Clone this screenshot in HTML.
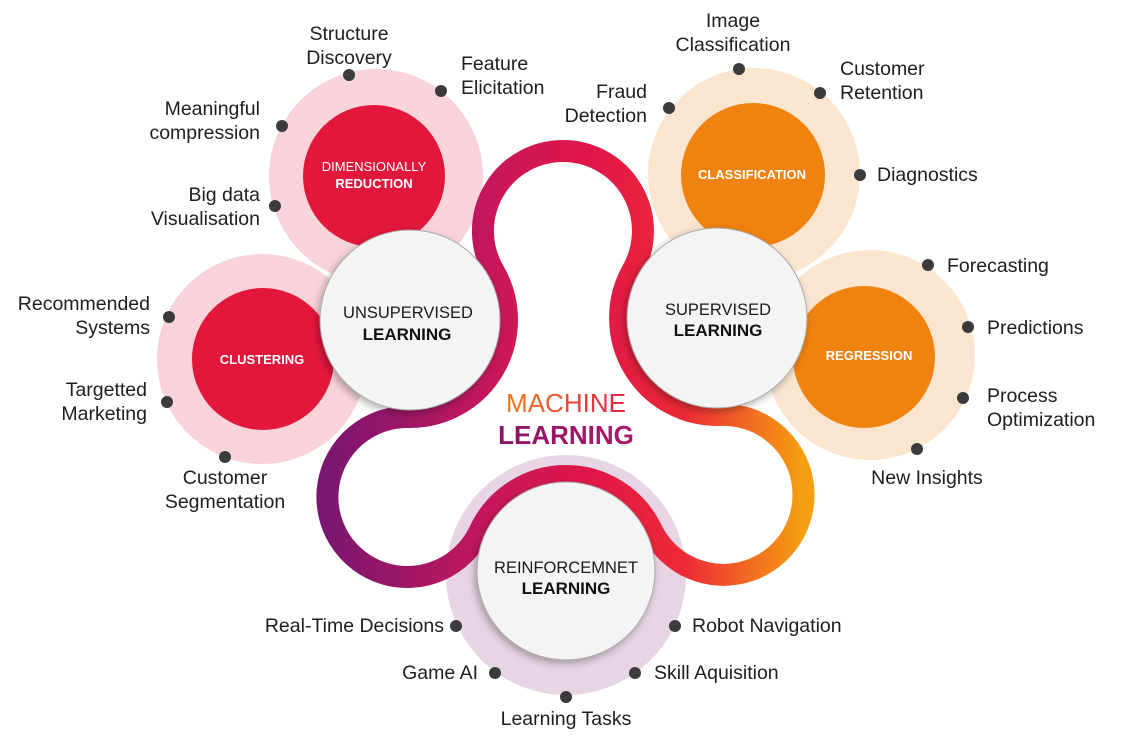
<!DOCTYPE html>
<html><head><meta charset="utf-8">
<style>
html,body{margin:0;padding:0;background:#fff;}
svg{display:block;}
text{font-family:"Liberation Sans",sans-serif;}
.lbl{font-size:19.5px;fill:#1e1e1e;}
.in{font-size:13px;fill:#fff;font-weight:bold;}
.mc{font-size:16.5px;fill:#1a1a1a;}
.mcb{font-size:17px;fill:#111;font-weight:bold;}
</style></head>
<body>
<svg id="svg" width="1136" height="740" viewBox="0 0 1136 740">
<defs>
<linearGradient id="rib" x1="0" y1="0" x2="1" y2="0" gradientUnits="objectBoundingBox">
<stop offset="0" stop-color="#7a1670"/>
<stop offset="0.35" stop-color="#c8175a"/>
<stop offset="0.55" stop-color="#e01648"/>
<stop offset="0.75" stop-color="#ec2a35"/>
<stop offset="1" stop-color="#f6a010"/>
</linearGradient>
<linearGradient id="mlg1" x1="0" y1="0" x2="1" y2="0"><stop offset="0" stop-color="#f07a1a"/><stop offset="1" stop-color="#e0204a"/></linearGradient>
<linearGradient id="mlg2" x1="0" y1="0" x2="1" y2="0"><stop offset="0" stop-color="#8a1466"/><stop offset="1" stop-color="#b0186a"/></linearGradient>
<filter id="sh" x="-20%" y="-20%" width="140%" height="140%"><feDropShadow dx="-2" dy="3" stdDeviation="4" flood-color="#000" flood-opacity="0.3"/></filter>
</defs>

<g>
<circle cx="376" cy="176" r="107" fill="#f8d3d9"/>
<circle cx="374" cy="176" r="71" fill="#e3173b"/>
<text class="in" x="374" y="171" text-anchor="middle" style="font-weight:normal">DIMENSIONALLY</text>
<text class="in" x="374" y="188" text-anchor="middle">REDUCTION</text>
</g>
<g>
<circle cx="262" cy="359" r="105" fill="#f8d3d9"/>
<circle cx="263" cy="359" r="71" fill="#e3173b"/>
<text class="in" x="262" y="364" text-anchor="middle">CLUSTERING</text>
</g>
<g>
<circle cx="754" cy="174" r="106" fill="#fbe5cf"/>
<circle cx="753" cy="175" r="72" fill="#f0820f"/>
<text class="in" x="752" y="179" text-anchor="middle">CLASSIFICATION</text>
</g>
<g>
<circle cx="870" cy="355" r="105" fill="#fbe5cf"/>
<circle cx="864" cy="357" r="71" fill="#f0820f"/>
<text class="in" x="869" y="360" text-anchor="middle">REGRESSION</text>
</g>
<circle cx="566" cy="575" r="120" fill="#e8d5e4"/>

<path id="ribbon" fill="none" stroke="url(#rib)" stroke-width="22"/>

<g>
<circle cx="410" cy="320" r="90" fill="#f4f4f4" stroke="#aaa" stroke-width="1" filter="url(#sh)"/>
<text class="mc" x="408" y="318" text-anchor="middle">UNSUPERVISED</text>
<text class="mcb" x="407" y="340" text-anchor="middle">LEARNING</text>
</g>
<g>
<circle cx="717" cy="318" r="90" fill="#f4f4f4" stroke="#aaa" stroke-width="1" filter="url(#sh)"/>
<text class="mc" x="718" y="315" text-anchor="middle">SUPERVISED</text>
<text class="mcb" x="718" y="336" text-anchor="middle">LEARNING</text>
</g>
<g>
<circle cx="566" cy="571" r="89" fill="#f4f4f4" stroke="#aaa" stroke-width="1" filter="url(#sh)"/>
<text class="mc" x="566" y="573" text-anchor="middle">REINFORCEMNET</text>
<text class="mcb" x="566" y="594" text-anchor="middle">LEARNING</text>
</g>

<text x="566" y="412" text-anchor="middle" font-size="26" fill="url(#mlg1)">MACHINE</text>
<text x="566" y="444" text-anchor="middle" font-size="26" font-weight="bold" fill="url(#mlg2)">LEARNING</text>

<g id="labels"></g>
</svg>
<script>
// node geometry for ribbon
var C1={x:410,y:320,R:97}, C2={x:717,y:318,R:97}, C3={x:566,y:571,R:95};
var LR=80;
function lobe(A,B,side){
  var dx=B.x-A.x, dy=B.y-A.y, d=Math.hypot(dx,dy);
  var ra=A.R+LR, rb=B.R+LR;
  var a=(ra*ra-rb*rb+d*d)/(2*d), h=Math.sqrt(Math.max(0,ra*ra-a*a));
  var ux=dx/d, uy=dy/d, bx=A.x+a*ux, by=A.y+a*uy;
  return {x:bx+side*uy*h, y:by-side*ux*h};
}
function tp(A,L,r){var dx=L.x-A.x,dy=L.y-A.y,d=Math.hypot(dx,dy);return {x:A.x+dx/d*r,y:A.y+dy/d*r};}
var L1=lobe(C1,C2,1), L3=lobe(C2,C3,1), L2=lobe(C3,C1,1);
var p1=tp(C1,L1,C1.R), p2=tp(C2,L1,C2.R), p3=tp(C2,L3,C2.R), p4=tp(C3,L3,C3.R), p5=tp(C3,L2,C3.R), p6=tp(C1,L2,C1.R);
function f(p){return p.x.toFixed(1)+' '+p.y.toFixed(1);}
var d='M'+f(p1)+' A'+LR+' '+LR+' 0 1 1 '+f(p2)+
 ' A'+C2.R+' '+C2.R+' 0 0 0 '+f(p3)+
 ' A'+LR+' '+LR+' 0 1 1 '+f(p4)+
 ' A'+C3.R+' '+C3.R+' 0 0 0 '+f(p5)+
 ' A'+LR+' '+LR+' 0 1 1 '+f(p6)+
 ' A'+C1.R+' '+C1.R+' 0 0 0 '+f(p1)+' Z';
document.getElementById('ribbon').setAttribute('d',d);

var labels=[
 ["Structure|Discovery",349,75,349,40,"middle"],
 ["Feature|Elicitation",441,91,461,70,"start"],
 ["Meaningful|compression",282,126,260,115,"end"],
 ["Big data|Visualisation",275,206,260,201,"end"],
 ["Recommended|Systems",169,317,150,310,"end"],
 ["Targetted|Marketing",167,402,147,396,"end"],
 ["Customer|Segmentation",225,457,225,484,"middle"],
 ["Image|Classification",739,69,733,27,"middle"],
 ["Customer|Retention",820,93,840,75,"start"],
 ["Fraud|Detection",669,108,647,98,"end"],
 ["Diagnostics",860,175,877,181,"start"],
 ["Forecasting",928,265,947,272,"start"],
 ["Predictions",968,327,987,334,"start"],
 ["Process|Optimization",963,398,987,402,"start"],
 ["New Insights",917,449,927,484,"middle"],
 ["Real-Time Decisions",456,626,444,632,"end"],
 ["Robot Navigation",675,626,692,632,"start"],
 ["Game AI",495,673,478,679,"end"],
 ["Skill Aquisition",635,673,654,679,"start"],
 ["Learning Tasks",566,697,566,725,"middle"]
];
var g=document.getElementById('labels'), NS='http://www.w3.org/2000/svg';
labels.forEach(function(L,i){
  var c=document.createElementNS(NS,'circle');
  c.setAttribute('cx',L[1]);c.setAttribute('cy',L[2]);c.setAttribute('r',6);c.setAttribute('fill','#3b3b3e');
  
  
  g.appendChild(c);
  var lines=L[0].split('|');
  var t=document.createElementNS(NS,'text');
  t.setAttribute('class','lbl');t.setAttribute('text-anchor',L[5]);
  
  
  lines.forEach(function(s,j){
    var ts=document.createElementNS(NS,'tspan');
    ts.setAttribute('x',L[3]);ts.setAttribute('y',L[4]+j*24);ts.textContent=s;t.appendChild(ts);
  });
  g.appendChild(t);
});
</script>
</body></html>
